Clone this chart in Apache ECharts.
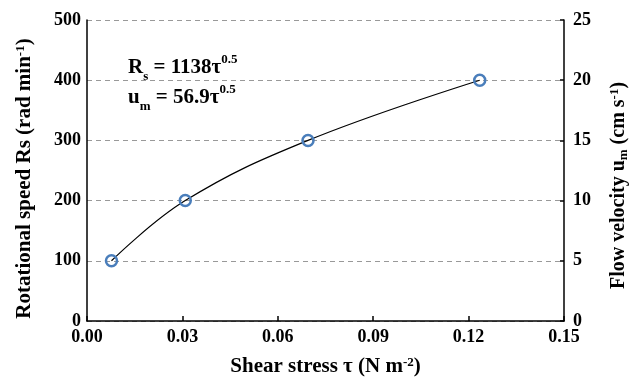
<!DOCTYPE html>
<html>
<head>
<meta charset="utf-8">
<script src="https://cdn.jsdelivr.net/npm/echarts@6/dist/echarts.min.js"></script>
<style>
  html, body { margin: 0; padding: 0; background: #fff; }
  #chart { width: 638px; height: 379px; }
</style>
</head>
<body>
<div id="chart"></div>
<script>
// shear stress (N m-2) and rotational speed (rad min-1)
const shearStress = [0.0077, 0.0309, 0.0695, 0.1235];
const rotSpeed = [100, 200, 300, 400];

const font = "'Liberation Serif', 'Times New Roman', serif";
const chart = echarts.init(document.getElementById("chart"));

const supSub = {
  sup: { fontSize: 13, fontWeight: "bold", fontFamily: font, color: "#000", verticalAlign: "top", padding: [0, 0, 7, 0] },
  sub: { fontSize: 13, fontWeight: "bold", fontFamily: font, color: "#000", verticalAlign: "bottom", padding: [9, 0, 0, 0] },
};
const nameStyle = { fontSize: 21, fontWeight: "bold", fontFamily: font, color: "#000", rich: supSub };
const tickStyle = { fontSize: 18, fontWeight: "bold", fontFamily: font, color: "#000" };

const option = {
  animation: false,
  backgroundColor: "#fff",
  grid: { left: 87, right: 74, top: 20, bottom: 58, outerBoundsMode: "none", containLabel: false },
  xAxis: {
    type: "value",
    min: 0,
    max: 0.15,
    interval: 0.03,
    name: "Shear stress τ (N m{sup|-2})",
    nameLocation: "middle",
    nameGap: 35,
    nameTextStyle: nameStyle,
    axisLine: { lineStyle: { color: "#000", width: 1.5 } },
    axisTick: { inside: true, length: 5, lineStyle: { color: "#000", width: 1.5 } },
    axisLabel: Object.assign({ margin: 7, formatter: v => v.toFixed(2) }, tickStyle),
    splitLine: { show: false },
  },
  yAxis: [
    {
      type: "value",
      min: 0,
      max: 500,
      interval: 100,
      name: "Rotational speed Rs (rad min{sup|-1})",
      nameLocation: "middle",
      nameGap: 52,
      nameTextStyle: Object.assign({ padding: [0, 16, 0, 0] }, nameStyle),
      axisLine: { show: true, lineStyle: { color: "#000", width: 1.5 } },
      axisTick: { show: false },
      axisLabel: Object.assign({ margin: 6 }, tickStyle),
      splitLine: { show: true, lineStyle: { color: "#999", type: [5, 4], width: 1 } },
    },
    {
      type: "value",
      min: 0,
      max: 25,
      interval: 5,
      position: "right",
      name: "Flow velocity u{sub|m} (cm s{sup|-1})",
      nameLocation: "middle",
      nameGap: 44,
      nameRotate: 90,
      nameTextStyle: Object.assign({ padding: [0, 30, 0, 0] }, nameStyle, { fontSize: 20 }),
      axisLine: { show: true, lineStyle: { color: "#000", width: 1.5 } },
      axisTick: { show: true, inside: true, length: 4, lineStyle: { color: "#000", width: 1.5 } },
      axisLabel: Object.assign({ margin: 9 }, tickStyle),
      splitLine: { show: false },
    },
  ],
  series: [
    {
      type: "line",
      data: shearStress.map((x, i) => [x, rotSpeed[i]]),
      smooth: 0.4,
      symbol: "circle",
      symbolSize: 11,
      showAllSymbol: true,
      lineStyle: { color: "#000", width: 1.2 },
      itemStyle: { color: "rgba(255,255,255,0)", borderColor: "#4a7ebb", borderWidth: 2.5 },
      z: 3,
    },
  ],
  graphic: [
    {
      type: "text",
      left: 128,
      top: 53,
      style: {
        text: "R{sub|s} = 1138τ{sup|0.5}\nu{sub|m} = 56.9τ{sup|0.5}",
        font: "bold 21px " + font,
        fill: "#000",
        lineHeight: 30,
        rich: supSub,
      },
    },
  ],
};

chart.setOption(option);
</script>
</body>
</html>
